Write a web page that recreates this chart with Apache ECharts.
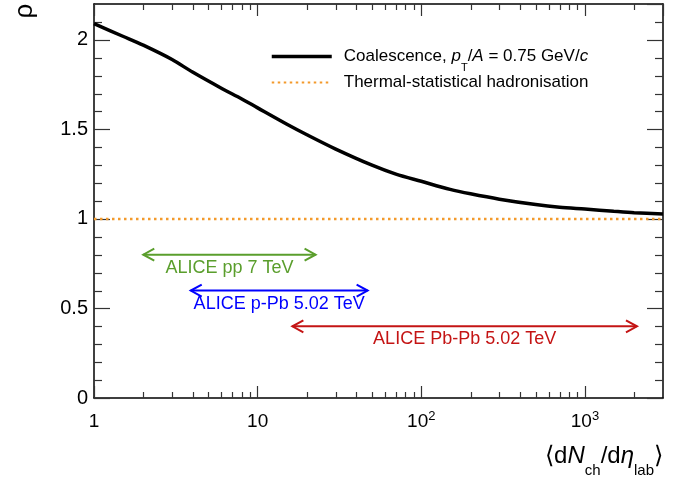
<!DOCTYPE html>
<html>
<head>
<meta charset="utf-8">
<script src="https://cdn.jsdelivr.net/npm/echarts@6/dist/echarts.min.js"></script>
<style>
  html, body { margin: 0; padding: 0; background: #fff; }
  #chart { width: 690px; height: 480px; }
</style>
</head>
<body>
<div id="chart"></div>
<script>
// coalescence prediction, rho vs <dNch/deta>
const coalX = [1, 1.5, 2, 3, 4, 6, 8, 10, 15, 20, 30, 50, 70, 100, 150, 200, 300, 500, 700, 1000, 1500, 2000, 3000]
const coalY = [2.09, 2.02, 1.97, 1.89, 1.82, 1.73, 1.67, 1.62, 1.53, 1.47, 1.39, 1.30, 1.25, 1.21, 1.165, 1.14, 1.11, 1.08, 1.065, 1.055, 1.043, 1.035, 1.027]
// thermal-statistical model
const thermalX = [1, 3000]
const thermalY = [1, 1]

// multiplicity ranges covered by the ALICE data sets
const rangeNames = ['ALICE pp 7 TeV', 'ALICE p-Pb 5.02 TeV', 'ALICE Pb-Pb 5.02 TeV']
const rangeFrom = [2, 3.9, 16.3]
const rangeTo = [22.6, 47, 2080]
const rangeY = [0.8, 0.6, 0.4]
const rangeColors = ['#5a9e2c', '#0000ff', '#c41414']

// ticks
const xMajorTicks = [1, 10, 100, 1000]
const xTickLabels = ['{b|1}', '{b|10}', '{b|10}{sup|2}', '{b|10}{sup|3}']
const xMinorTicks = [2, 3, 4, 5, 6, 7, 8, 9, 20, 30, 40, 50, 60, 70, 80, 90, 200, 300, 400, 500, 600, 700, 800, 900, 2000]
const yMinorTicks = [0.1, 0.2, 0.3, 0.4, 0.6, 0.7, 0.8, 0.9, 1.1, 1.2, 1.3, 1.4, 1.6, 1.7, 1.8, 1.9, 2.1]

const FONT = 'Liberation Sans, Arial, Helvetica, sans-serif'
const tickColor = '#333'

const coalName = 'Coalescence, pT/A = 0.75 GeV/c'
const thermalName = 'Thermal-statistical hadronisation'

var myChart = echarts.init(document.getElementById('chart'))

function axisBase(pos, len) {
  return {
    position: pos,
    axisLine: { show: true, onZero: false, lineStyle: { color: '#000', width: 1.5 } },
    axisTick: { show: true, inside: true, length: len, lineStyle: { color: tickColor, width: 1.2 } },
    splitLine: { show: false }
  }
}

myChart.setOption({
  animation: false,
  textStyle: { fontFamily: FONT },
  grid: { left: 94, right: 27, top: 4, bottom: 82 },
  legend: {
    orient: 'vertical',
    left: 270,
    top: 48,
    padding: 0,
    itemWidth: 60,
    itemHeight: 16,
    itemGap: 1,
    selectedMode: false,
    itemStyle: { opacity: 0 },
    data: [
      { name: coalName, lineStyle: { width: 3.5 } },
      { name: thermalName }
    ],
    formatter: function (name) {
      if (name === coalName) {
        return '{g| }{n|Coalescence, }{i|p}{s|T}{n|/}{i|A}{n| = 0.75 GeV/}{i|c}'
      }
      return '{g| }{n|Thermal-statistical hadronisation}'
    },
    textStyle: {
      fontFamily: FONT,
      fontSize: 17,
      color: '#000',
      rich: {
        g: { width: 7, lineHeight: 33, verticalAlign: 'middle' },
        n: { fontSize: 17, lineHeight: 33, verticalAlign: 'middle', color: '#000' },
        i: { fontSize: 17, lineHeight: 33, verticalAlign: 'middle', fontStyle: 'italic', color: '#000' },
        s: { fontSize: 11, lineHeight: 11, verticalAlign: 'bottom', color: '#000' }
      }
    }
  },
  xAxis: [
    Object.assign(axisBase('bottom', 12), {
      type: 'log', logBase: 10, min: 1, max: 3000,
      axisLabel: {
        show: true, margin: 12, showMaxLabel: false,
        formatter: function (v) {
          const k = xMajorTicks.indexOf(Math.round(v))
          return k < 0 ? '' : xTickLabels[k]
        },
        rich: {
          b: { fontSize: 19, lineHeight: 24, verticalAlign: 'middle', color: '#000', fontFamily: FONT },
          sup: { fontSize: 13, lineHeight: 14, verticalAlign: 'top', color: '#000', fontFamily: FONT }
        }
      }
    }),
    Object.assign(axisBase('top', 12), {
      type: 'log', logBase: 10, min: 1, max: 3000,
      axisLabel: { show: false }
    })
  ],
  yAxis: [
    Object.assign(axisBase('left', 16), {
      type: 'value', min: 0, max: 2.2, interval: 0.5,
      axisLabel: { show: true, margin: 6, showMaxLabel: false, fontSize: 20, color: '#000', fontFamily: FONT }
    }),
    Object.assign(axisBase('right', 16), {
      type: 'value', min: 0, max: 2.2, interval: 0.5,
      axisLabel: { show: false }
    })
  ],
  graphic: [
    {
      type: 'text',
      rotation: Math.PI / 2,
      x: 25, y: 11,
      style: { text: 'ρ', fontSize: 26, fontFamily: FONT, fill: '#000', align: 'center', verticalAlign: 'middle' }
    },
    {
      type: 'text',
      x: 663, y: 456,
      style: {
        text: '{m|⟨d}{i|N}{s|ch}{m|/d}{i|η}{s|lab}{m|⟩}',
        align: 'right', verticalAlign: 'middle',
        rich: {
          m: { fontSize: 24, lineHeight: 44, verticalAlign: 'middle', fontFamily: FONT, fill: '#000' },
          i: { fontSize: 24, lineHeight: 44, verticalAlign: 'middle', fontStyle: 'italic', fontFamily: FONT, fill: '#000' },
          s: { fontSize: 15, lineHeight: 15, verticalAlign: 'bottom', fontFamily: FONT, fill: '#000' }
        }
      }
    }
  ],
  series: [
    {
      name: coalName,
      type: 'line',
      data: coalX.map((x, i) => [x, coalY[i]]),
      showSymbol: false,
      symbol: 'none',
      smooth: 0.3,
      lineStyle: { color: '#000', width: 3.5 },
      itemStyle: { color: '#000' },
      z: 5
    },
    {
      name: thermalName,
      type: 'line',
      data: thermalX.map((x, i) => [x, thermalY[i]]),
      showSymbol: false,
      symbol: 'none',
      lineStyle: { color: '#f39a2c', width: 2.5, type: [2.5, 3.5] },
      itemStyle: { color: '#f39a2c' },
      z: 4
    },
    {
      // data ranges as double arrows with labels
      type: 'custom',
      data: rangeFrom.map((v, i) => [v, rangeTo[i], rangeY[i]]),
      encode: { x: [0, 1], y: 2 },
      renderItem: function (params, api) {
        const i = params.dataIndex
        const a = api.coord([api.value(0), api.value(2)])
        const b = api.coord([api.value(1), api.value(2)])
        const c = rangeColors[i]
        const y = a[1]
        const st = { stroke: c, lineWidth: 2, fill: null }
        return {
          type: 'group',
          children: [
            { type: 'line', shape: { x1: a[0], y1: y, x2: b[0], y2: y }, style: st },
            { type: 'polyline', shape: { points: [[a[0] + 11, y - 6], [a[0], y], [a[0] + 11, y + 6]] }, style: st },
            { type: 'polyline', shape: { points: [[b[0] - 11, y - 6], [b[0], y], [b[0] - 11, y + 6]] }, style: st },
            {
              type: 'text',
              style: {
                x: (a[0] + b[0]) / 2, y: y + 13,
                text: rangeNames[i], fill: c, fontSize: 18, fontFamily: FONT,
                align: 'center', verticalAlign: 'middle'
              }
            }
          ]
        }
      },
      z: 6
    },
    {
      // minor ticks of the log x axis, bottom and top
      type: 'custom',
      data: xMinorTicks.map(v => [v, 0]),
      encode: { x: 0, y: 1 },
      clip: false,
      renderItem: function (params, api) {
        const cs = params.coordSys
        const x = Math.round(api.coord([api.value(0), 0])[0]) + 0.5
        const st = { stroke: tickColor, lineWidth: 1.2 }
        return {
          type: 'group',
          children: [
            { type: 'line', shape: { x1: x, y1: cs.y + cs.height, x2: x, y2: cs.y + cs.height - 6 }, style: st },
            { type: 'line', shape: { x1: x, y1: cs.y, x2: x, y2: cs.y + 6 }, style: st }
          ]
        }
      }
    },
    {
      // minor ticks of the y axis, left and right
      type: 'custom',
      data: yMinorTicks.map(v => [1, v]),
      encode: { x: 0, y: 1 },
      clip: false,
      renderItem: function (params, api) {
        const cs = params.coordSys
        const y = Math.round(api.coord([1, api.value(1)])[1]) + 0.5
        const st = { stroke: tickColor, lineWidth: 1.2 }
        return {
          type: 'group',
          children: [
            { type: 'line', shape: { x1: cs.x, y1: y, x2: cs.x + 8, y2: y }, style: st },
            { type: 'line', shape: { x1: cs.x + cs.width, y1: y, x2: cs.x + cs.width - 8, y2: y }, style: st }
          ]
        }
      }
    }
  ]
})
</script>
</body>
</html>
